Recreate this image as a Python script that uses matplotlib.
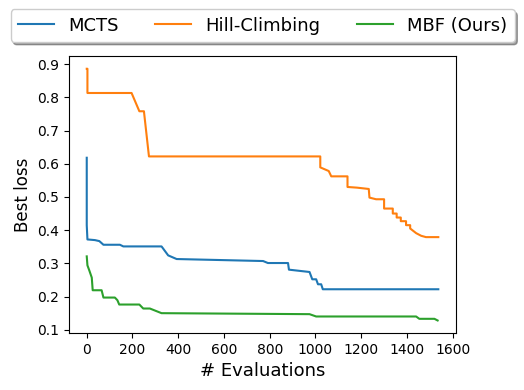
import matplotlib
matplotlib.use("Agg")
import matplotlib.pyplot as plt

mcts_x = [0, 0, 3, 36, 55, 73, 145, 160, 327, 356, 393, 771, 792, 880, 884, 974, 986, 1003, 1011, 1025, 1032, 1537]
mcts_y = [0.618, 0.415, 0.372, 0.370, 0.367, 0.356, 0.356, 0.351, 0.351, 0.324, 0.313, 0.307, 0.301, 0.301, 0.281, 0.274, 0.252, 0.252, 0.237, 0.237, 0.222, 0.222]

hc_x = [0, 3, 3, 196, 230, 250, 272, 1021, 1021, 1058, 1069, 1140, 1140, 1181, 1233, 1236, 1265, 1300, 1300, 1338, 1338, 1355, 1355, 1373, 1373, 1396, 1396, 1414, 1414, 1440, 1462, 1483, 1537]
hc_y = [0.886, 0.886, 0.813, 0.813, 0.758, 0.758, 0.622, 0.622, 0.589, 0.578, 0.562, 0.562, 0.530, 0.528, 0.524, 0.498, 0.493, 0.493, 0.465, 0.465, 0.450, 0.450, 0.438, 0.438, 0.427, 0.427, 0.415, 0.415, 0.405, 0.391, 0.383, 0.379, 0.379]

mbf_x = [0, 3, 11, 22, 26, 65, 73, 123, 134, 142, 230, 247, 276, 327, 974, 1003, 1440, 1454, 1520, 1534]
mbf_y = [0.321, 0.294, 0.279, 0.257, 0.219, 0.219, 0.197, 0.197, 0.189, 0.176, 0.176, 0.164, 0.164, 0.150, 0.147, 0.140, 0.140, 0.133, 0.133, 0.128]

labels = ["MCTS", "Hill-Climbing", "MBF (Ours)"]

fig = plt.figure(figsize=(5.24, 3.9), dpi=100)
ax = fig.add_axes([0.132, 0.146, 0.738, 0.710])
ax.plot(mcts_x, mcts_y, color="#1f77b4", label=labels[0])
ax.plot(hc_x, hc_y, color="#ff7f0e", label=labels[1])
ax.plot(mbf_x, mbf_y, color="#2ca02c", label=labels[2])
ax.set_xlabel("# Evaluations", fontsize=13)
ax.set_ylabel("Best loss", fontsize=12)
ax.set_xticks(range(0, 1601, 200))
ax.set_yticks([0.1, 0.2, 0.3, 0.4, 0.5, 0.6, 0.7, 0.8, 0.9])
ax.legend(loc="center", bbox_to_anchor=(0.5, 1.11), ncol=3, fontsize=13,
          fancybox=True, shadow=True)
fig.savefig("out.png", dpi=100)
